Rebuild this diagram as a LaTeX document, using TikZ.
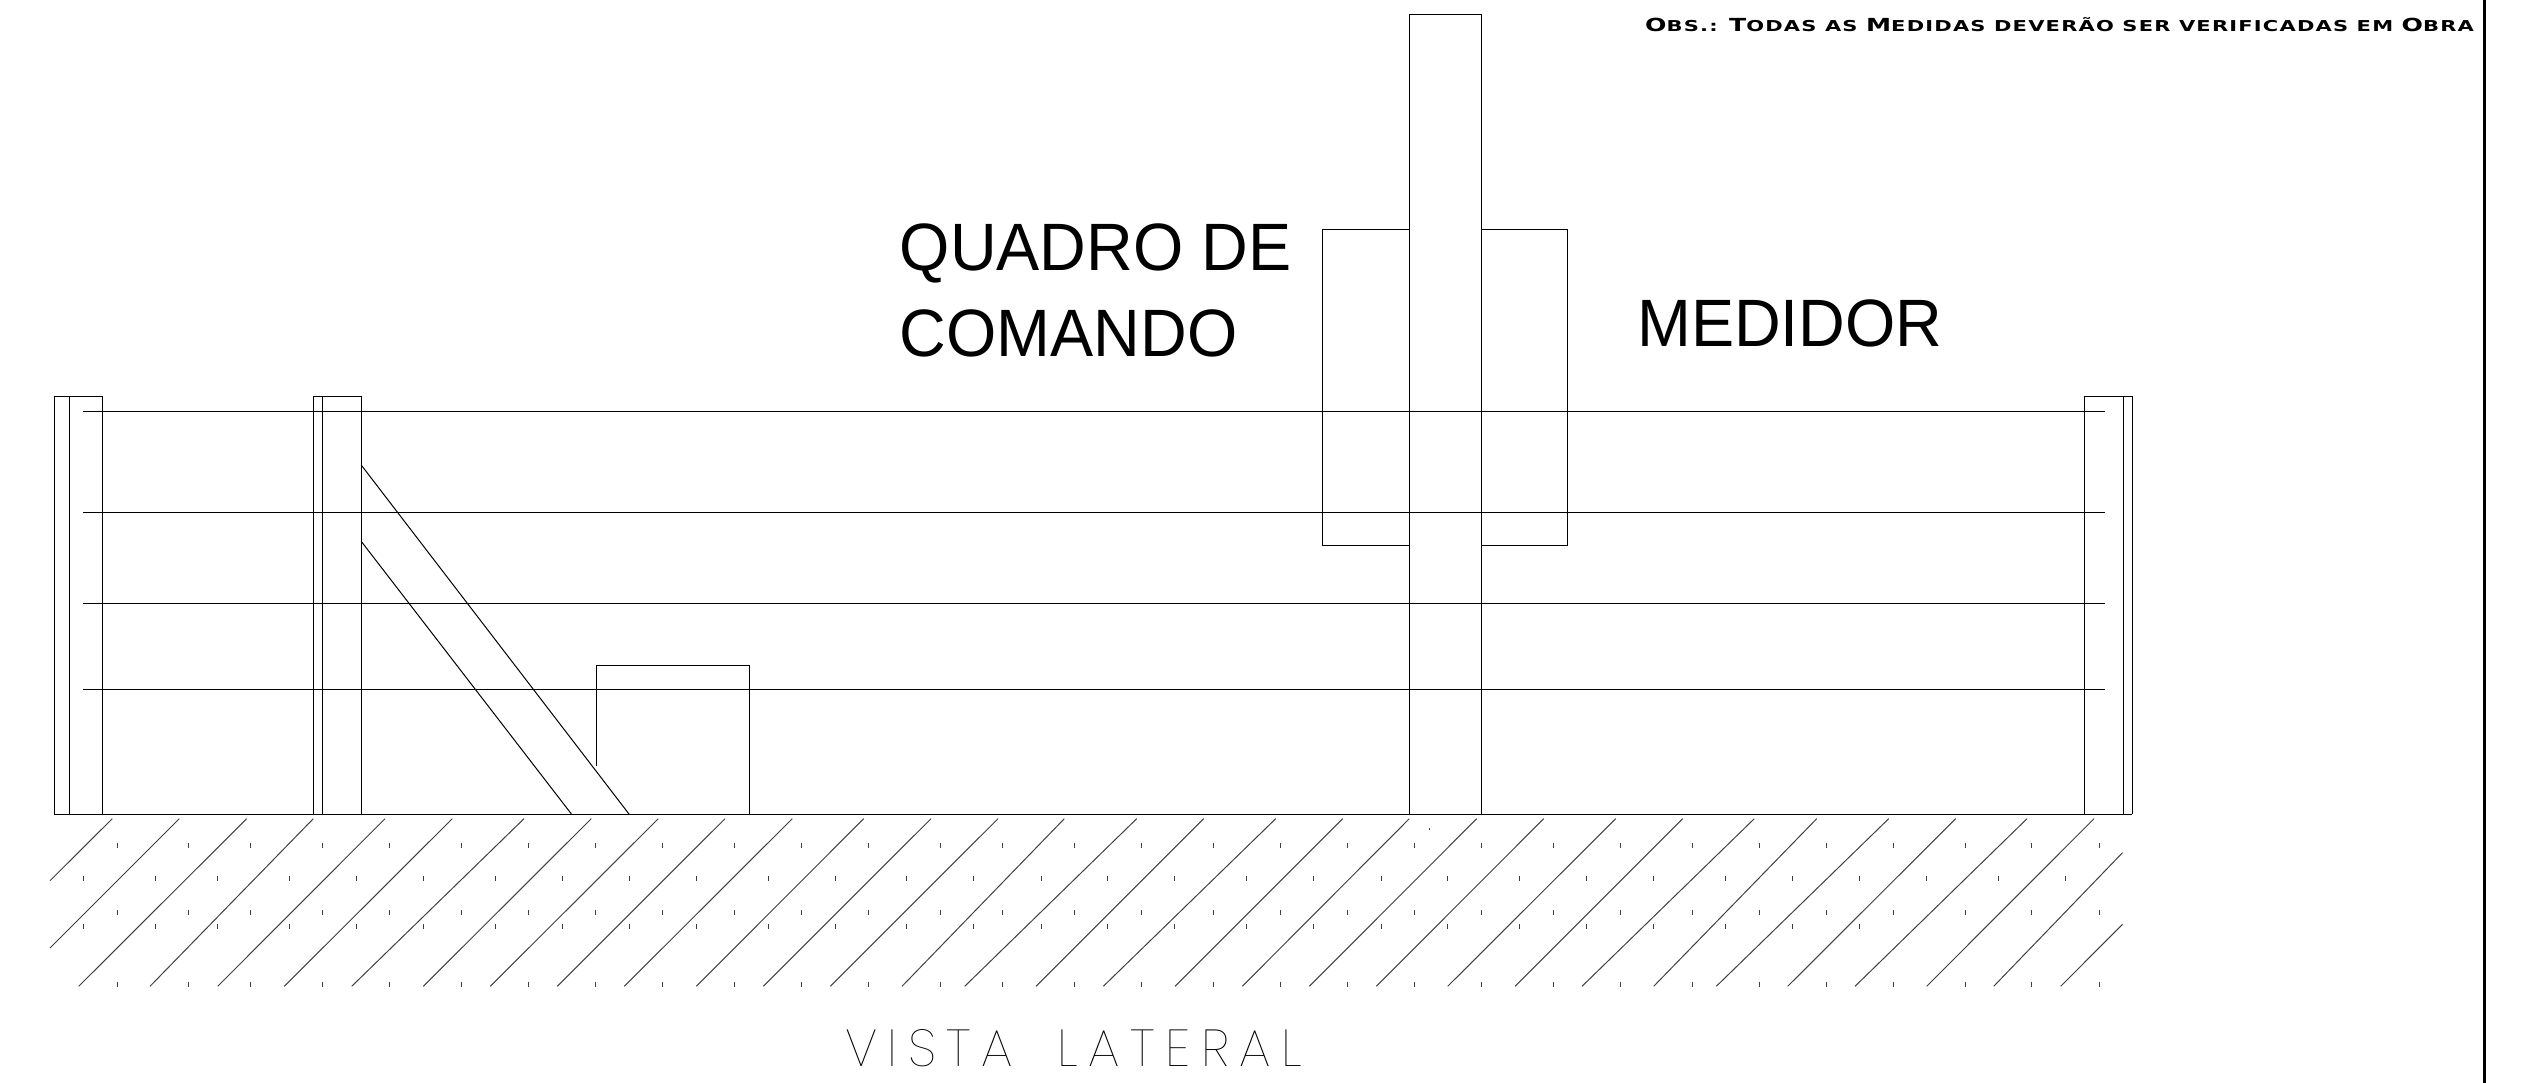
\documentclass[tikz,border=0pt]{standalone}
\usepackage{fontspec}
\setmainfont[FakeStretch=0.965]{Liberation Sans}
\newfontfamily\vistafont[LetterSpace=20.3,WordSpace=1.75]{Poppins Thin}
\newfontfamily\obsfont[LetterSpace=8,FakeStretch=1.4]{DejaVu Sans Bold}
\newcommand{\obscap}[1]{{\fontsize{18}{20}\selectfont #1}}
\newcommand{\ticksa}{117,188.7,250.7,322.7,389.7,461.7,528.7,595.7,662.7,734.3,801.3,868.3,940.3,1002.7,1074.3,1141.3,1213.3,1280.3,1347.3,1414.3,1481.3,1553,1620.3,1692,1759,1826,1893,1965,2031.8,2099.3}
\newcommand{\ticksb}{83.3,155,217.3,289.3,356.3,423.3,495,562.3,629,696.3,768,835,906.7,973.7,1041,1107.7,1174.7,1246.7,1313.7,1381,1447.7,1519.7,1586.7,1653.3,1725.7,1792.3,1859.3}
\tikzset{
    planline/.style={black, line width = 1pt},
    hatchline/.style={black!75, line width = 1pt},
    bigtext/.style={inner sep=0pt, anchor=base west, font=\fontsize{67}{70}\selectfont}
}
\begin{document}
\begin{tikzpicture}[x=1pt,y=-1pt]
        \useasboundingbox (0,0) rectangle (2538,1083);
        \draw[black, line width = 2.5pt](2484.5,0)--(2484.5,1083);
        \foreach \x/\xx/\xxx in {54.3/69/102.7,313.3/322.8/361.2,2084.3/2123/2132.3}{
            \draw[planline](\x,814)--(\x,396.7)--(\xxx,396.7)--(\xxx,814);
            \draw[planline](\xx,396.7)--(\xx,814);
        }
        \foreach \y in {411.5,512.3,603.3,689.7}{
            \draw[planline](83,\y)--(2105,\y);
        }
        \draw[planline](54.3,814)--(2132.3,814);
        \draw[planline](361.2,465)--(629,814);
        \draw[planline](361.2,541.3)--(571.4,814);
        \draw[planline](596,766)--(596,665.7)--(749.5,665.7)--(749.5,814);
        \draw[planline](1409.5,814)--(1409.5,14.6)--(1481.2,14.6)--(1481.2,814);
        \draw[planline](1409.5,230)--(1322.7,230)--(1322.7,545.7)--(1409.5,545.7);
        \draw[planline](1481.2,230)--(1567,230)--(1567,545.7)--(1481.2,545.7);
        \foreach \a/\b in {246.7/78.7,313.3/150,385/217.7,452.3/284.3,524/351.7,591.3/423.3,658.3/490.3,725/557.3,792.3/624.3,863.7/696.3,931/763.3,998/830.3,1064.3/902,1136.7/964.7,1203.7/1036,1275.7/1103.3,1342.7/1175,1409.3/1242.3,1476.7/1309.3,1543.7/1376.3,1615.7/1447.7,1682.7/1515,1754.3/1582,1816.7/1653.7,1888.7/1716.3,1955.7/1787.7,2027/1855,2094/1926.7}{
            \draw[hatchline](\a,818.7)--(\b,986.3);
        }
        \draw[hatchline](112.3,818.7)--(50,880.7);
        \draw[hatchline](179.3,818.7)--(50,948);
        \draw[hatchline](2122.5,852.7)--(1993.7,986.3);
        \draw[hatchline](2122.5,924.3)--(2060.7,986.3);
        \foreach \x in \ticksa{
            \foreach \y in {845,912.3,984}{
                \draw[hatchline](\x,\y-2.5)--(\x,\y+2.5);
            }
        }
        \foreach \x in \ticksb{
            \foreach \y in {878.3,926.3}{
                \draw[hatchline](\x,\y-2.5)--(\x,\y+2.5);
            }
        }
        \foreach \x in {1926.3,1998.3,2065.6}{
            \draw[hatchline](\x,875.8)--(\x,880.8);
        }
        \draw[hatchline](1429.3,828.2)--(1429.3,829.8);
        \node[bigtext] (quadrotext) at (899.6,271) {QUADRO DE};
        \node[bigtext] (comandotext) at (899.6,356) {COMANDO};
        \node[bigtext] (medidortext) at (1637,346) {MEDIDOR};
        \node[inner sep=0pt, anchor=base west, font=\fontsize{52}{54}\selectfont\vistafont] (vistatext) at (845,1066) {VISTA LATERAL};
        \node[inner sep=0pt, anchor=base west, font=\fontsize{15}{17}\selectfont\obsfont] (obstext) at (1645,32) {\obscap{O}BS.: \obscap{T}ODAS AS \obscap{M}EDIDAS DEVERÃO SER VERIFICADAS EM \obscap{O}BRA};
    \end{tikzpicture}
\end{document}
